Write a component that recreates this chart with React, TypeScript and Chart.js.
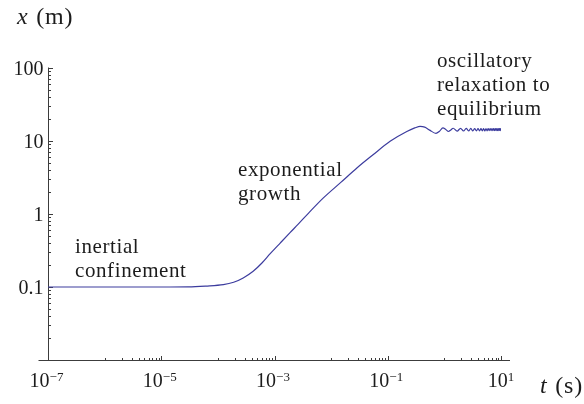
import React, { useEffect, useRef } from "react";
import { Chart, registerables } from "chart.js";

Chart.register(...registerables);

// time t (s)
const T_VALUES = [
  1e-7, 1e-6, 1e-5, 3e-5, 6e-5, 1.25e-4, 1.9e-4, 2.8e-4, 4.2e-4, 6e-4, 8.4e-4,
  1.26e-3, 1.9e-3, 2.6e-3, 4.0e-3, 7.3e-3, 1.5e-2, 2.85e-2, 5.5e-2, 0.11, 0.217,
  0.3, 0.373, 0.45, 0.55, 0.71, 0.82, 0.94, 1.06, 1.18, 1.3, 1.43, 1.68, 1.93,
  2.18, 2.43, 2.68, 2.93, 3.18, 3.43, 3.68, 3.93, 4.18, 4.43, 4.68, 4.93, 5.18,
  5.43, 5.68, 5.93, 6.18, 6.43, 6.68, 6.93, 7.18, 7.43, 7.68, 7.93, 8.18, 8.43,
  8.68, 8.93, 9.18, 9.43, 9.68, 9.93, 10,
];
// position x (m)
const X_VALUES = [
  0.1, 0.1, 0.1, 0.1005, 0.103, 0.1075, 0.116, 0.133, 0.164, 0.213, 0.286,
  0.4, 0.56, 0.72, 1.03, 1.66, 2.73, 4.27, 6.48, 9.9, 13.5,
  15.1, 15.9, 15.5, 14.1, 12.7, 13.6, 15.1, 14.4, 13.5, 14.2, 14.95, 13.65, 14.9,
  13.7, 14.85, 13.75, 14.85, 13.75, 14.8, 13.8, 14.8, 13.8, 14.8, 13.8, 14.8, 13.8,
  14.8, 13.8, 14.75, 13.85, 14.75, 13.85, 14.75, 13.85, 14.75, 13.85, 14.75, 13.85, 14.75,
  13.85, 14.75, 13.85, 14.75, 13.85, 14.75, 14.3,
];

const X_MAJOR_TICKS = [1e-7, 1e-5, 1e-3, 1e-1, 1e1];
const X_MAJOR_EXPONENTS = ["-7", "-5", "-3", "-1", "1"];
const X_MINOR_DECADES = [1e-6, 1e-4, 1e-2, 1];
const X_MINOR_MULTIPLIERS = [1, 2, 3, 4, 5, 6, 7, 8, 9];

const Y_MAJOR_TICKS = [0.1, 1, 10, 100];
const Y_MAJOR_LABELS = ["0.1", "1", "10", "100"];
const Y_MINOR_DECADES = [0.01, 0.1, 1, 10];
const Y_MINOR_MULTIPLIERS = [2, 3, 4, 5, 6, 7, 8, 9];

const X_MIN = 1e-7;
const X_MAX = 10;
const Y_MIN = 0.01;
const Y_MAX = 100;

const ANNOTATIONS = [
  { lines: ["inertial", "confinement"] },
  { lines: ["exponential", "growth"] },
  { lines: ["oscillatory", "relaxation to", "equilibrium"] },
];

const FONT = '"Liberation Serif", "Times New Roman", serif';
const TEXT = "#1c1c1c";
const AXIS = "#3c3c3c";

const mmaPlugin = {
  id: "mmaAxes",
  beforeDatasetsDraw(chart: any) {
    const { ctx, scales } = chart;
    const xs = scales.x;
    const ys = scales.y;
    const ax = Math.round(xs.getPixelForValue(X_MIN)) + 0.5;
    const ay = Math.round(ys.getPixelForValue(Y_MIN)) + 0.5;
    const yTop = ys.getPixelForValue(Y_MAX);
    const xRight = xs.getPixelForValue(X_MAX);
    ctx.save();
    ctx.strokeStyle = AXIS;
    ctx.lineWidth = 1;
    ctx.beginPath();
    ctx.moveTo(ax, yTop - 0.5);
    ctx.lineTo(ax, ay);
    ctx.moveTo(ax - 10, ay);
    ctx.lineTo(xRight + 9, ay);
    // y ticks
    Y_MAJOR_TICKS.forEach((v) => {
      const p = Math.round(ys.getPixelForValue(v)) + 0.5;
      ctx.moveTo(ax, p);
      ctx.lineTo(ax + 4.5, p);
    });
    Y_MINOR_DECADES.forEach((d) => {
      Y_MINOR_MULTIPLIERS.forEach((m) => {
        const p = Math.round(ys.getPixelForValue(d * m)) + 0.5;
        ctx.moveTo(ax, p);
        ctx.lineTo(ax + 2.5, p);
      });
    });
    // x ticks
    X_MAJOR_TICKS.forEach((v) => {
      const p = Math.round(xs.getPixelForValue(v)) + 0.5;
      ctx.moveTo(p, ay);
      ctx.lineTo(p, ay - 4.5);
    });
    X_MINOR_DECADES.forEach((d) => {
      X_MINOR_MULTIPLIERS.forEach((m) => {
        const p = Math.round(xs.getPixelForValue(d * m)) + 0.5;
        ctx.moveTo(p, ay);
        ctx.lineTo(p, ay - 2.5);
      });
    });
    ctx.stroke();

    // y labels
    ctx.fillStyle = TEXT;
    ctx.font = `20px ${FONT}`;
    ctx.textAlign = "right";
    ctx.textBaseline = "alphabetic";
    Y_MAJOR_TICKS.forEach((v, i) => {
      const p = ys.getPixelForValue(v);
      ctx.fillText(Y_MAJOR_LABELS[i], ax - 5, p + 6.5);
    });

    // x labels 10^n
    ctx.textAlign = "left";
    X_MAJOR_TICKS.forEach((v, i) => {
      const p = xs.getPixelForValue(v);
      ctx.font = `20px ${FONT}`;
      const wBase = ctx.measureText("10").width;
      const exp = X_MAJOR_EXPONENTS[i].replace("-", "\u2212");
      ctx.font = `13px ${FONT}`;
      const wExp = ctx.measureText(exp).width;
      const start = p - (wBase + wExp) / 2 - (exp.length > 1 ? 1.5 : 0);
      ctx.font = `20px ${FONT}`;
      ctx.fillText("10", start, 386.5);
      ctx.font = `13px ${FONT}`;
      ctx.fillText(exp, start + wBase, 380.5);
    });
    ctx.restore();
  },
  afterDraw(chart: any) {
    const { ctx } = chart;
    ctx.save();
    ctx.fillStyle = TEXT;
    ctx.textAlign = "left";
    ctx.textBaseline = "alphabetic";
    // axis titles
    (ctx as any).letterSpacing = "0.8px";
    ctx.font = `italic 24px ${FONT}`;
    ctx.fillText("x", 17, 24);
    let w = ctx.measureText("x").width;
    ctx.font = `24px ${FONT}`;
    ctx.fillText(" (m)", 17 + w + 1, 24);

    ctx.font = `italic 24px ${FONT}`;
    ctx.fillText("t", 540, 393);
    w = ctx.measureText("t").width;
    ctx.font = `24px ${FONT}`;
    ctx.fillText(" (s)", 540 + w + 1, 393);

    // annotations
    const anchors = [
      { x: 75, y: 253 },
      { x: 238, y: 176 },
      { x: 437, y: 67 },
    ];
    ctx.font = `21px ${FONT}`;
    (ctx as any).letterSpacing = "0.6px";
    ANNOTATIONS.forEach((a, i) => {
      a.lines.forEach((line, j) => {
        ctx.fillText(line, anchors[i].x, anchors[i].y + j * 24);
      });
    });
    (ctx as any).letterSpacing = "0px";
    ctx.restore();
  },
};

export default function App() {
  const canvasRef = useRef<HTMLCanvasElement | null>(null);

  useEffect(() => {
    const canvas = canvasRef.current;
    if (!canvas) return;
    const data = T_VALUES.map((t, i) => ({ x: t, y: X_VALUES[i] }));
    const chart = new Chart(canvas, {
      type: "line",
      data: {
        datasets: [
          {
            data,
            borderColor: "#3c3c9e",
            borderWidth: 1.2,
            pointRadius: 0,
            fill: false,
            cubicInterpolationMode: "monotone",
          },
        ],
      },
      options: {
        animation: false,
        responsive: false,
        devicePixelRatio: 1,
        layout: { padding: { left: 48, right: 83, top: 68, bottom: 44 } },
        plugins: { legend: { display: false }, tooltip: { enabled: false } },
        scales: {
          x: { type: "logarithmic", min: X_MIN, max: X_MAX, display: false },
          y: { type: "logarithmic", min: Y_MIN, max: Y_MAX, display: false },
        },
      },
      plugins: [mmaPlugin],
    } as any);
    return () => chart.destroy();
  }, []);

  return (
    <div style={{ position: "fixed", left: 0, top: 0, width: 584, height: 404, background: "#fff" }}>
      <canvas ref={canvasRef} width={584} height={404} style={{ width: 584, height: 404, display: "block" }} />
    </div>
  );
}
